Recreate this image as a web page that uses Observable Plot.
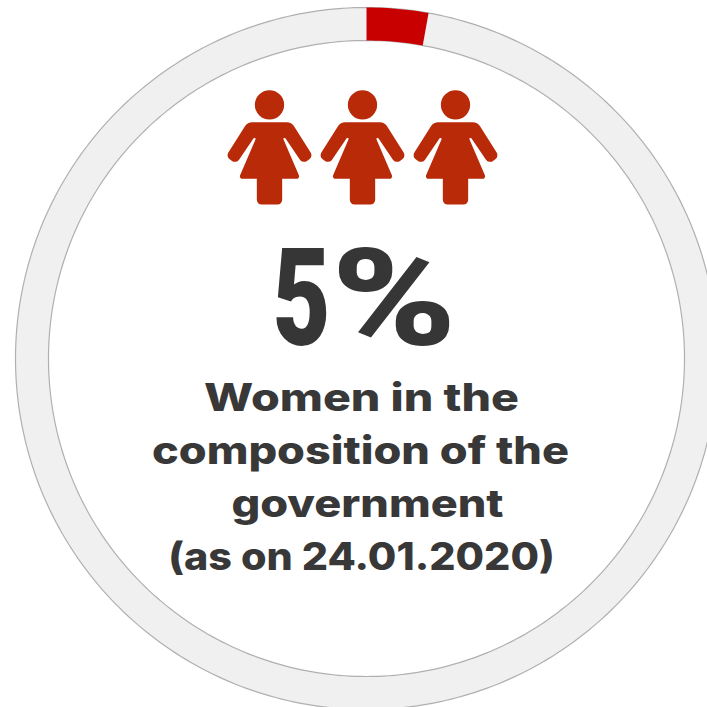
<!DOCTYPE html>
<html><head><meta charset="utf-8">
<script src="https://cdn.jsdelivr.net/npm/d3@7"></script>
<script src="https://cdn.jsdelivr.net/npm/@observablehq/plot@0.6"></script>
<style>html,body{margin:0;padding:0;background:#fff}svg{display:block}</style>
</head><body><div id="chart"></div>
<script>
const shareLabels = ["Women","Rest"];
const shareValues = [2.83,97.17];
const segmentColors = ["#c80000","#f0f0f0"];
const womenIcons = ["woman 1","woman 2","woman 3"];
const headline = ["5%"];
const captionLines = ["Women in the","composition of the","government","(as on 24.01.2020)"];

const innerRadiusRatio = 0.906;
function ringSegment(fromPct,toPct){
  const pts=[];
  const ang=p=>p/100*2*Math.PI;
  const n=Math.max(2,Math.ceil((toPct-fromPct)*4));
  for(let i=0;i<=n;i++){const a=ang(fromPct+(toPct-fromPct)*i/n);pts.push({x:Math.sin(a),y:Math.cos(a)});}
  for(let i=n;i>=0;i--){const a=ang(fromPct+(toPct-fromPct)*i/n);pts.push({x:innerRadiusRatio*Math.sin(a),y:innerRadiusRatio*Math.cos(a)});}
  return pts;
}
function circle(r){return d3.range(0,361,1).map(d=>{const a=d*Math.PI/180;return {x:r*Math.sin(a),y:r*Math.cos(a)};});}
const womanSymbol={draw(c,size){
  const s=Math.sqrt(size/Math.PI)/123;
  c.moveTo(44*s,-127*s);c.arc(0,-127*s,44*s,0,2*Math.PI);c.closePath();
  const half=[[66,-75,26],[131,28,15],[100,50,15],[47,-28,4],[40,-28,4],[93,95,8],[38,95,0],[38,172,14]];
  const outline=[...half,...half.slice().reverse().map(([x,y,r])=>[-x,y,r])];
  c.moveTo(0,-75*s);
  outline.forEach(([x,y,r],i)=>{
    const n=outline[i+1]||[0,-75];
    c.arcTo(x*s,y*s,n[0]*s,n[1]*s,r*s);
  });
  c.closePath();
}};
const ink="#383838";
const iconColor="#b82a08";
const plot=Plot.plot({
  width:707,height:707,margin:0,
  x:{domain:[-1,1],range:[15,717],axis:null},
  y:{domain:[1,-1],range:[7,709],axis:null},
  marks:[
    Plot.line(ringSegment(shareValues[0],100),{x:"x",y:"y",fill:segmentColors[1],stroke:"none"}),
    Plot.line(circle(1),{x:"x",y:"y",stroke:"#b0b0b0",strokeWidth:1.2}),
    Plot.line(circle(innerRadiusRatio),{x:"x",y:"y",stroke:"#b0b0b0",strokeWidth:1.2}),
    Plot.line(ringSegment(0,shareValues[0]),{x:"x",y:"y",fill:segmentColors[0],stroke:"none"}),
    ...womenIcons.map((w,i)=>Plot.dot([w],{frameAnchor:"top-left",dx:269+93*i,dy:146.7,r:41,symbol:womanSymbol,fill:iconColor,stroke:"none"})),
    Plot.text(headline,{className:"headline",frameAnchor:"top-left",dx:272,dy:344,text:d=>d,textAnchor:"start",lineAnchor:"bottom",fontFamily:"Roboto",fontWeight:900,fontSize:135,fill:"#363636"}),
    ...captionLines.map((t,i)=>Plot.text([t],{className:"caption",frameAnchor:"top-left",dx:[361,360,367,361][i],dy:410+53.2*i,text:d=>d,textAnchor:"middle",lineAnchor:"bottom",fontFamily:"Inter",fontWeight:800,fontSize:38,fill:ink}))
  ]
});
// Condense the headline glyph by glyph: a tall narrow 5 and a wide %.
plot.querySelectorAll(".headline text").forEach(t=>{
  const s=t.textContent; t.textContent="";
  const NS="http://www.w3.org/2000/svg";
  [[s.slice(0,1),58,0],[s.slice(1),125,1]].forEach(([g,len,gap])=>{
    const sp=document.createElementNS(NS,"tspan");
    sp.textContent=g;
    sp.setAttribute("textLength",len);
    sp.setAttribute("lengthAdjust","spacingAndGlyphs");
    if(gap)sp.setAttribute("dx",gap);
    t.append(sp);
  });
});
const captionStretch=[1.225,1.185,1.185,1.087];
plot.querySelectorAll(".caption").forEach((g,i)=>{
  g.querySelectorAll("text").forEach(t=>{
    t.setAttribute("transform",(t.getAttribute("transform")||"")+" scale("+captionStretch[i]+",1)");
  });
});
document.getElementById("chart").append(plot);
</script></body></html>
